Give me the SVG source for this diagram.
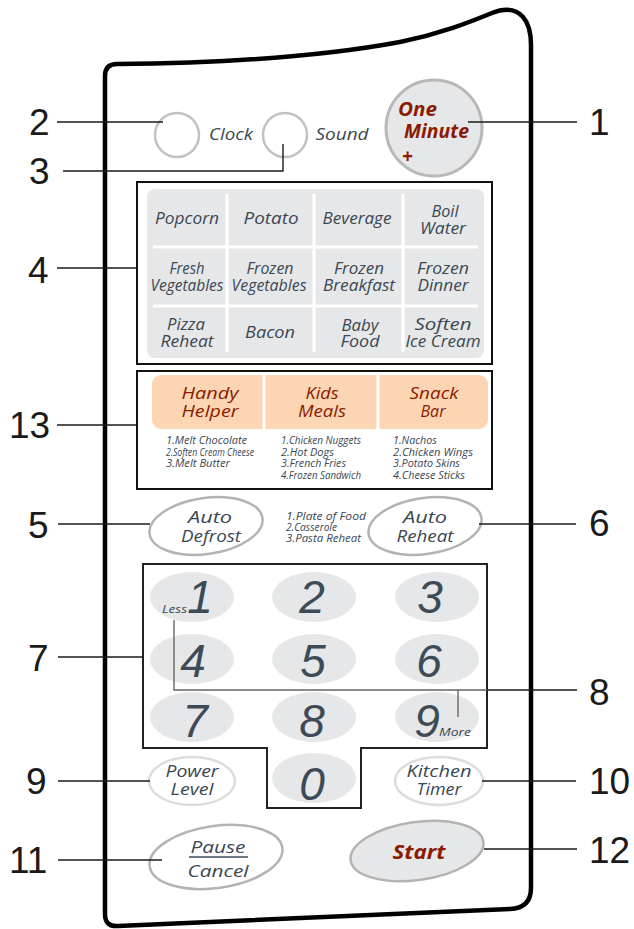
<svg xmlns="http://www.w3.org/2000/svg" width="634" height="929" viewBox="0 0 634 929">
<style>
.lbl{font-family:"Liberation Sans",Arial,sans-serif;font-size:37px;fill:#1a1a1a}
.t{font-family:"Open Sans","Noto Sans",sans-serif;font-style:italic;fill:#3a4853;text-anchor:middle;font-size:16px}
.s{font-family:"Open Sans","Noto Sans",sans-serif;font-style:italic;fill:#3a4853;font-size:10.5px}
.r{font-family:"Open Sans","Noto Sans",sans-serif;font-style:italic;fill:#8b1a00;text-anchor:middle;font-size:17px}
.rb{font-family:"Open Sans","Noto Sans",sans-serif;font-style:italic;font-weight:bold;fill:#8b1a00;font-size:19px}
.d{font-family:"Liberation Sans",Arial,sans-serif;font-style:italic;fill:#3d4b57;text-anchor:middle;font-size:46px}
.key{fill:#e6e7e8}
.btn{fill:#fff;stroke:#b3b3b3;stroke-width:2.5}
.btnl{fill:#fff;stroke:#dcdcdc;stroke-width:2.5}
.ld{stroke:#1a1a1a;stroke-width:1.4;fill:none}
</style>

<path id="panel" d="M105,76 Q105,64 117,64 C230,63 330,55 400,42 C440,34 470,22 492,13 Q512,5 523,17 Q531,26 531,45 L531,888 Q531,908 510,909 L118,926 Q105,927 105,914 Z" fill="#fff" stroke="#000" stroke-width="4.5"/>

<g id="clock">
<circle cx="177" cy="135" r="22" fill="#fff" stroke="#c2c2c2" stroke-width="2.5"/>
<text class="t" x="231" y="140" textLength="44" lengthAdjust="spacingAndGlyphs">Clock</text>
</g>
<g id="sound">
<circle cx="285" cy="135" r="22" fill="#fff" stroke="#c2c2c2" stroke-width="2.5"/>
<text class="t" x="342" y="140" textLength="53" lengthAdjust="spacingAndGlyphs">Sound</text>
</g>
<g id="one-minute">
<circle cx="434" cy="128" r="48" fill="#e6e7e8" stroke="#b8b8b8" stroke-width="3"/>
<text class="rb"><tspan x="398" y="116" textLength="39" lengthAdjust="spacingAndGlyphs">One</tspan><tspan x="404" y="138" textLength="65" lengthAdjust="spacingAndGlyphs">Minute</tspan><tspan x="402" y="163">+</tspan></text>
</g>

<g id="food-menu">
<rect x="137" y="182" width="355" height="182" fill="#fff" stroke="#111" stroke-width="2"/>
<rect x="147" y="189" width="337" height="169" rx="8" fill="#e6e7e8"/>
<g stroke="#fff" stroke-width="3">
<line x1="227" y1="194" x2="227" y2="352"/>
<line x1="314" y1="194" x2="314" y2="352"/>
<line x1="403" y1="194" x2="403" y2="352"/>
<line x1="153" y1="247" x2="478" y2="247"/>
<line x1="153" y1="306" x2="478" y2="306"/>
</g>
<text class="t" x="187" y="224" textLength="64" lengthAdjust="spacingAndGlyphs">Popcorn</text>
<text class="t" x="271" y="224" textLength="55" lengthAdjust="spacingAndGlyphs">Potato</text>
<text class="t" x="357" y="224" textLength="69" lengthAdjust="spacingAndGlyphs">Beverage</text>
<text class="t"><tspan x="445" y="217" textLength="27" lengthAdjust="spacingAndGlyphs">Boil</tspan><tspan x="443" y="234" textLength="46" lengthAdjust="spacingAndGlyphs">Water</tspan></text>
<text class="t"><tspan x="187" y="274" textLength="35" lengthAdjust="spacingAndGlyphs">Fresh</tspan><tspan x="187" y="291" textLength="73" lengthAdjust="spacingAndGlyphs">Vegetables</tspan></text>
<text class="t"><tspan x="270" y="274" textLength="47" lengthAdjust="spacingAndGlyphs">Frozen</tspan><tspan x="269" y="291" textLength="75" lengthAdjust="spacingAndGlyphs">Vegetables</tspan></text>
<text class="t"><tspan x="359" y="274" textLength="50" lengthAdjust="spacingAndGlyphs">Frozen</tspan><tspan x="359" y="291" textLength="72" lengthAdjust="spacingAndGlyphs">Breakfast</tspan></text>
<text class="t"><tspan x="443" y="274" textLength="52" lengthAdjust="spacingAndGlyphs">Frozen</tspan><tspan x="443" y="291" textLength="51" lengthAdjust="spacingAndGlyphs">Dinner</tspan></text>
<text class="t"><tspan x="186" y="330" textLength="38" lengthAdjust="spacingAndGlyphs">Pizza</tspan><tspan x="187" y="347" textLength="53" lengthAdjust="spacingAndGlyphs">Reheat</tspan></text>
<text class="t" x="270" y="338" textLength="50" lengthAdjust="spacingAndGlyphs">Bacon</text>
<text class="t"><tspan x="360" y="331" textLength="37" lengthAdjust="spacingAndGlyphs">Baby</tspan><tspan x="360" y="347" textLength="39" lengthAdjust="spacingAndGlyphs">Food</tspan></text>
<text class="t"><tspan x="443" y="330" textLength="57" lengthAdjust="spacingAndGlyphs">Soften</tspan><tspan x="443" y="347" textLength="75" lengthAdjust="spacingAndGlyphs">Ice Cream</tspan></text>
</g>

<g id="special-menu">
<rect x="137" y="371" width="355" height="118" fill="#fff" stroke="#111" stroke-width="2"/>
<rect x="152" y="375" width="336" height="54" rx="9" fill="#fcd6b2"/>
<g stroke="#fff" stroke-width="3">
<line x1="264" y1="375" x2="264" y2="429"/>
<line x1="378" y1="375" x2="378" y2="429"/>
</g>
<text class="r"><tspan x="210" y="399" textLength="57" lengthAdjust="spacingAndGlyphs">Handy</tspan><tspan x="210" y="417" textLength="57" lengthAdjust="spacingAndGlyphs">Helper</tspan></text>
<text class="r"><tspan x="322" y="399" textLength="33" lengthAdjust="spacingAndGlyphs">Kids</tspan><tspan x="322" y="417" textLength="48" lengthAdjust="spacingAndGlyphs">Meals</tspan></text>
<text class="r"><tspan x="434" y="399" textLength="49" lengthAdjust="spacingAndGlyphs">Snack</tspan><tspan x="433" y="417" textLength="25" lengthAdjust="spacingAndGlyphs">Bar</tspan></text>
<text class="s"><tspan x="166" y="444" textLength="81" lengthAdjust="spacingAndGlyphs">1.Melt Chocolate</tspan><tspan x="166" y="456" textLength="88" lengthAdjust="spacingAndGlyphs">2.Soften Cream Cheese</tspan><tspan x="166" y="467" textLength="64" lengthAdjust="spacingAndGlyphs">3.Melt Butter</tspan></text>
<text class="s"><tspan x="281" y="444" textLength="80" lengthAdjust="spacingAndGlyphs">1.Chicken Nuggets</tspan><tspan x="281" y="456" textLength="53" lengthAdjust="spacingAndGlyphs">2.Hot Dogs</tspan><tspan x="281" y="467" textLength="65" lengthAdjust="spacingAndGlyphs">3.French Fries</tspan><tspan x="281" y="479" textLength="80" lengthAdjust="spacingAndGlyphs">4.Frozen Sandwich</tspan></text>
<text class="s"><tspan x="393" y="444" textLength="44" lengthAdjust="spacingAndGlyphs">1.Nachos</tspan><tspan x="393" y="456" textLength="80" lengthAdjust="spacingAndGlyphs">2.Chicken Wings</tspan><tspan x="393" y="467" textLength="67" lengthAdjust="spacingAndGlyphs">3.Potato Skins</tspan><tspan x="393" y="479" textLength="72" lengthAdjust="spacingAndGlyphs">4.Cheese Sticks</tspan></text>
</g>

<g id="auto-defrost">
<ellipse class="btn" cx="206" cy="526" rx="57" ry="28" transform="rotate(-8 206 526)"/>
<text class="t"><tspan x="210" y="523" textLength="44" lengthAdjust="spacingAndGlyphs">Auto</tspan><tspan x="211" y="542" textLength="60" lengthAdjust="spacingAndGlyphs">Defrost</tspan></text>
</g>
<g id="auto-reheat-list">
<text class="s"><tspan x="286" y="520" textLength="80" lengthAdjust="spacingAndGlyphs">1.Plate of Food</tspan><tspan x="286" y="531" textLength="51" lengthAdjust="spacingAndGlyphs">2.Casserole</tspan><tspan x="286" y="542" textLength="75" lengthAdjust="spacingAndGlyphs">3.Pasta Reheat</tspan></text>
</g>
<g id="auto-reheat">
<ellipse class="btn" cx="425" cy="526" rx="57" ry="28" transform="rotate(-8 425 526)"/>
<text class="t"><tspan x="425" y="523" textLength="44" lengthAdjust="spacingAndGlyphs">Auto</tspan><tspan x="425" y="542" textLength="57" lengthAdjust="spacingAndGlyphs">Reheat</tspan></text>
</g>

<g id="keypad">
<path d="M143,564 H487 V748 H361 V808 H267 V748 H143 Z" fill="#fff" stroke="#222" stroke-width="2"/>
<ellipse class="key" cx="192" cy="597" rx="42" ry="25"/>
<ellipse class="key" cx="314" cy="597" rx="42" ry="25"/>
<ellipse class="key" cx="437" cy="597" rx="42" ry="25"/>
<ellipse class="key" cx="192" cy="659" rx="42" ry="25"/>
<ellipse class="key" cx="314" cy="659" rx="42" ry="25"/>
<ellipse class="key" cx="437" cy="659" rx="42" ry="25"/>
<ellipse class="key" cx="192" cy="717" rx="42" ry="25"/>
<ellipse class="key" cx="314" cy="717" rx="42" ry="25"/>
<ellipse class="key" cx="437" cy="717" rx="42" ry="25"/>
<ellipse class="key" cx="314" cy="778" rx="42" ry="25"/>
<text class="d" x="200" y="613">1</text>
<text class="d" x="312" y="613">2</text>
<text class="d" x="430" y="613">3</text>
<text class="d" x="193" y="677">4</text>
<text class="d" x="313" y="677">5</text>
<text class="d" x="429" y="677">6</text>
<text class="d" x="195" y="737">7</text>
<text class="d" x="312" y="737">8</text>
<text class="d" x="427" y="737">9</text>
<text class="d" x="312" y="800">0</text>
<text class="s" x="162" y="613" font-size="12" textLength="25" lengthAdjust="spacingAndGlyphs">Less</text>
<text class="s" x="439" y="736" font-size="12" textLength="32" lengthAdjust="spacingAndGlyphs">More</text>
</g>

<g id="power-level">
<ellipse class="btnl" cx="192" cy="781" rx="43" ry="24"/>
<text class="t"><tspan x="192" y="777" textLength="53" lengthAdjust="spacingAndGlyphs">Power</tspan><tspan x="192" y="795" textLength="43" lengthAdjust="spacingAndGlyphs">Level</tspan></text>
</g>
<g id="kitchen-timer">
<ellipse class="btnl" cx="439" cy="781" rx="44" ry="24"/>
<text class="t"><tspan x="439" y="777" textLength="65" lengthAdjust="spacingAndGlyphs">Kitchen</tspan><tspan x="439" y="795" textLength="45" lengthAdjust="spacingAndGlyphs">Timer</tspan></text>
</g>
<g id="pause-cancel">
<ellipse class="btn" cx="216" cy="857" rx="67" ry="31" transform="rotate(-8 216 857)"/>
<text class="t" font-size="17"><tspan x="218" y="853" textLength="55" lengthAdjust="spacingAndGlyphs">Pause</tspan><tspan x="218" y="877" textLength="61" lengthAdjust="spacingAndGlyphs">Cancel</tspan></text>
<line x1="189" y1="857" x2="248" y2="857" stroke="#3d4b57" stroke-width="1.3"/>
</g>
<g id="start">
<ellipse cx="417" cy="851" rx="67" ry="29" transform="rotate(-8 417 851)" fill="#e6e7e8" stroke="#b3b3b3" stroke-width="2.5"/>
<text class="rb" x="419" y="859" font-size="21" text-anchor="middle" textLength="53" lengthAdjust="spacingAndGlyphs">Start</text>
</g>

<g id="connectors">
<line class="ld" x1="57" y1="122" x2="163" y2="122"/>
<polyline class="ld" points="63,171 283,171 283,144"/>
<line class="ld" x1="468" y1="122" x2="577" y2="122"/>
<line class="ld" x1="57" y1="268" x2="137" y2="268"/>
<line class="ld" x1="57" y1="425" x2="137" y2="425"/>
<line class="ld" x1="58" y1="524" x2="150" y2="524"/>
<line class="ld" x1="479" y1="524" x2="576" y2="524"/>
<line class="ld" x1="58" y1="657" x2="143" y2="657"/>
<line class="ld" x1="487" y1="690" x2="577" y2="690"/>
<polyline points="487,690 174,690 174,620" fill="none" stroke="#666" stroke-width="1.4"/>
<line x1="458" y1="690" x2="458" y2="717" stroke="#666" stroke-width="1.4"/>
<line class="ld" x1="58" y1="781" x2="150" y2="781"/>
<line class="ld" x1="482" y1="781" x2="576" y2="781"/>
<line class="ld" x1="58" y1="860" x2="162" y2="860"/>
<line class="ld" x1="484" y1="849" x2="577" y2="849"/>
</g>

<g id="labels">
<text class="lbl" x="29" y="135">2</text>
<text class="lbl" x="29" y="184">3</text>
<text class="lbl" x="28" y="283">4</text>
<text class="lbl" x="9" y="438">13</text>
<text class="lbl" x="28" y="538">5</text>
<text class="lbl" x="28" y="671">7</text>
<text class="lbl" x="26" y="794">9</text>
<text class="lbl" x="9" y="873">11</text>
<text class="lbl" x="589" y="135">1</text>
<text class="lbl" x="589" y="536">6</text>
<text class="lbl" x="589" y="705">8</text>
<text class="lbl" x="589" y="794">10</text>
<text class="lbl" x="589" y="863">12</text>
</g>
</svg>
